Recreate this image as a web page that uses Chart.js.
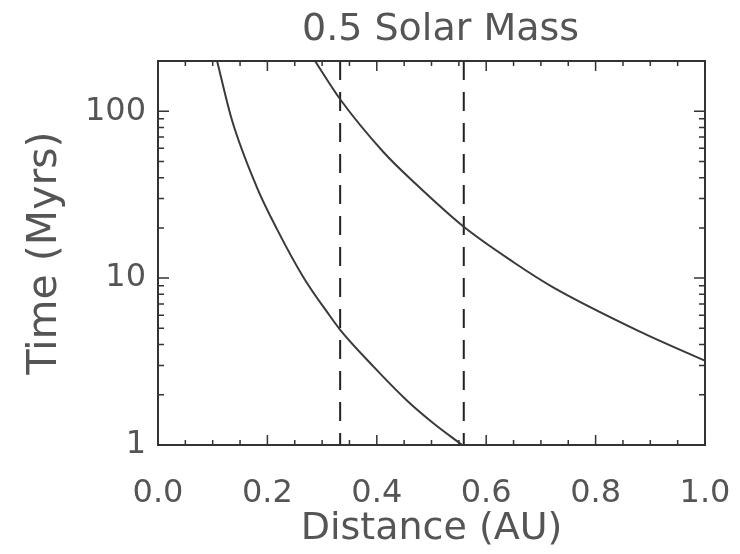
<!DOCTYPE html>
<html lang="en">
<head>
  <meta charset="UTF-8" />
  <title>0.5 Solar Mass</title>
  <script src="https://cdn.jsdelivr.net/npm/chart.js"></script>
  <style>
    * { margin: 0; padding: 0; box-sizing: border-box; }
    body { background: #fff; width: 740px; height: 554px; overflow: hidden; }
    #wrap { width: 740px; height: 554px; }
  </style>
</head>
<body>
<div id="wrap"><canvas id="myChart"></canvas></div>
<script>
  // curves (distance in AU, time in Myrs)
  const innerX = [0.108, 0.135, 0.180, 0.217, 0.266, 0.314, 0.333, 0.394, 0.455, 0.500, 0.556];
  const innerY = [200, 89, 35.5, 19.8, 10.1, 5.95, 4.9, 2.95, 1.85, 1.38, 1.0];
  const outerX = [0.287, 0.333, 0.412, 0.470, 0.559, 0.650, 0.720, 0.880, 1.000];
  const outerY = [200, 118, 57, 37, 20.3, 12.45, 8.9, 4.8, 3.2];

  // dashed markers
  const markerX = [0.333, 0.559];

  // axis ticks
  const xMajor = [0, 0.2, 0.4, 0.6, 0.8, 1.0];
  const xMinor = [0.05, 0.1, 0.15, 0.25, 0.3, 0.35, 0.45, 0.5, 0.55, 0.65, 0.7, 0.75, 0.85, 0.9, 0.95];
  const yMajor = [1, 10, 100];
  const yMinor = [2, 3, 4, 5, 6, 7, 8, 9, 20, 30, 40, 50, 60, 70, 80, 90, 200];

  const ink = "#3a3a3a";
  const textInk = "#555";
  const font = "'DejaVu Sans', sans-serif";
  const titleText = "0.5 Solar Mass";

  const pts = (xs, ys) => xs.map((x, i) => ({ x, y: ys[i] }));

  const datasets = [
    { data: pts(innerX, innerY), borderColor: ink, borderWidth: 2, cubicInterpolationMode: "monotone" },
    { data: pts(outerX, outerY), borderColor: ink, borderWidth: 2, cubicInterpolationMode: "monotone" }
  ];
  markerX.forEach(x => {
    datasets.push({ data: [{ x, y: 200 }, { x, y: 1 }], borderColor: "#222", borderWidth: 2, borderDash: [19, 12] });
  });

  // box, inward ticks and the title, IDL style
  const frame = {
    id: "frame",
    afterDatasetsDraw(chart) {
      const { ctx, chartArea: a, scales } = chart;
      const xs = scales.x, ys = scales.y;
      ctx.save();
      ctx.strokeStyle = "#333";
      ctx.lineWidth = 2;
      ctx.strokeRect(a.left, a.top, a.right - a.left, a.bottom - a.top);
      ctx.lineWidth = 1.5;
      ctx.beginPath();
      const xt = (v, len) => {
        const p = xs.getPixelForValue(v);
        ctx.moveTo(p, a.bottom); ctx.lineTo(p, a.bottom - len);
        ctx.moveTo(p, a.top); ctx.lineTo(p, a.top + len);
      };
      const yt = (v, len) => {
        const p = ys.getPixelForValue(v);
        ctx.moveTo(a.left, p); ctx.lineTo(a.left + len, p);
        ctx.moveTo(a.right, p); ctx.lineTo(a.right - len, p);
      };
      xMajor.forEach(v => xt(v, 10));
      xMinor.forEach(v => xt(v, 5));
      yMajor.forEach(v => yt(v, 11));
      yMinor.forEach(v => yt(v, 6));
      ctx.stroke();

      ctx.fillStyle = textInk;
      ctx.font = "38px " + font;
      ctx.textAlign = "center";
      ctx.textBaseline = "middle";
      ctx.fillText(titleText, (a.left + a.right) / 2 + 9, 30);
      ctx.restore();
    }
  };

  new Chart(document.getElementById("myChart"), {
    type: "line",
    data: { datasets },
    plugins: [frame],
    options: {
      responsive: true,
      maintainAspectRatio: false,
      animation: false,
      layout: { padding: { left: 0, right: 35, top: 61, bottom: 0 } },
      elements: { point: { radius: 0 }, line: { fill: false } },
      plugins: {
        legend: { display: false },
        tooltip: { enabled: false },
        title: { display: false }
      },
      scales: {
        x: {
          type: "linear",
          min: 0, max: 1,
          grid: { display: false, drawTicks: false },
          border: { display: false },
          ticks: {
            stepSize: 0.2,
            padding: 29,
            maxRotation: 0,
            color: textInk,
            font: { family: font, size: 32 },
            callback: v => Number(v).toFixed(1)
          },
          title: {
            display: true,
            text: "Distance (AU)",
            color: textInk,
            font: { family: font, size: 38 },
            padding: { top: 0, bottom: 2 }
          },
          afterFit: s => { s.height = 109; s.paddingLeft = 0; s.paddingRight = 0; }
        },
        y: {
          type: "logarithmic",
          min: 1, max: 200,
          grid: { display: false, drawTicks: false },
          border: { display: false },
          ticks: {
            autoSkip: false,
            padding: 12,
            color: textInk,
            font: { family: font, size: 32 },
            callback: v => (yMajor.includes(v) ? String(v) : "")
          },
          title: {
            display: true,
            text: "Time (Myrs)",
            color: textInk,
            font: { family: font, size: 41 },
            padding: { top: 21, bottom: 0 }
          },
          afterFit: s => { s.width = 158; s.paddingTop = 0; s.paddingBottom = 0; }
        }
      }
    }
  });
</script>
</body>
</html>
